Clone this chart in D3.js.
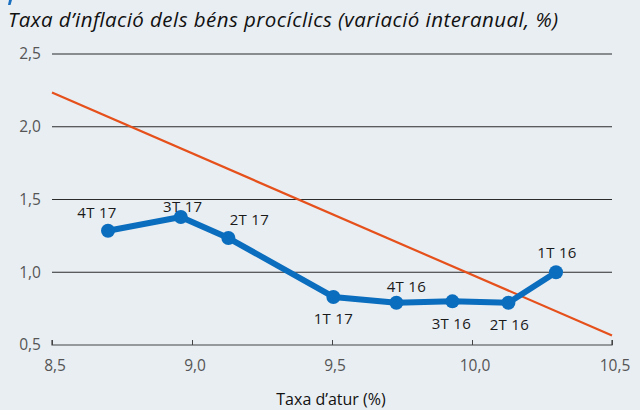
<!DOCTYPE html>
<meta charset="utf-8">
<style type="text/css">
    body {
        margin: 0;
        background: #e9eef3;
    }
    svg {
        display: block;
    }
    text {
        font-family: "Open Sans", "Noto Sans", sans-serif;
    }
</style>
<body>
<script src="https://cdn.jsdelivr.net/npm/d3@7"></script>
<script>
// Data
var quarters = ["4T 17", "3T 17", "2T 17", "1T 17", "4T 16", "3T 16", "2T 16", "1T 16"];
var unemployment = [8.70, 8.96, 9.13, 9.505, 9.73, 9.93, 10.13, 10.30];
var inflation = [1.285, 1.38, 1.235, 0.83, 0.79, 0.80, 0.79, 1.00];
var trendX = [8.5, 10.5];
var trendY = [2.235, 0.565];
var xTicks = [8.5, 9.0, 9.5, 10.0, 10.5];
var yTicks = [0.5, 1.0, 1.5, 2.0, 2.5];

// label offsets relative to each point (layout only)
var labelOffsets = [[-11, -13], [2, -5], [21, -13], [0, 27], [10, -11], [-1, 28], [1, 27], [1, -14]];

var width = 640, height = 410;
var margin = {top: 54, right: 28, bottom: 65, left: 52};

var svg = d3.select("body").append("svg")
    .attr("width", width)
    .attr("height", height);

svg.append("rect")
    .attr("width", width)
    .attr("height", height)
    .attr("fill", "#e9eef3");

// cut-off glyph fragment at the top-left corner
svg.append("path")
    .attr("d", "M9,0 L12,0 L10.5,5 L8,5 Z")
    .attr("fill", "#1a6fbf");

var x = d3.scaleLinear()
    .domain([8.5, 10.5])
    .range([margin.left, width - margin.right]);

var y = d3.scaleLinear()
    .domain([0.5, 2.5])
    .range([height - margin.bottom, margin.top]);

// Title
svg.append("text")
    .attr("x", 8)
    .attr("y", 27)
    .style("font-style", "italic")
    .style("font-size", "20.5px")
    .attr("fill", "#111")
    .attr("textLength", 550)
    .attr("lengthAdjust", "spacing")
    .text("Taxa d’inflació dels béns procíclics (variació interanual, %)");

// Horizontal gridlines
svg.append("g").selectAll("line")
    .data(yTicks.filter(function(d) { return d > 0.5; }))
    .enter().append("line")
    .attr("x1", x(8.5))
    .attr("x2", x(10.5))
    .attr("y1", function(d) { return y(d); })
    .attr("y2", function(d) { return y(d); })
    .attr("stroke", "#2b2b2b")
    .attr("stroke-width", 1.2);

// Y labels
var fmt = function(d) { return d3.format(".1f")(d).replace(".", ","); };

svg.append("g").selectAll("text")
    .data(yTicks)
    .enter().append("text")
    .attr("x", 41)
    .attr("y", function(d) { return y(d); })
    .attr("dy", "0.35em")
    .attr("text-anchor", "end")
    .style("font-size", "15.5px")
    .attr("fill", "#555")
    .text(fmt);

// X axis
var xAxis = d3.axisTop(x)
    .tickValues(xTicks)
    .tickSize(5)
    .tickFormat("");

var gx = svg.append("g")
    .attr("transform", "translate(0," + y(0.5) + ")")
    .call(xAxis);
gx.select(".domain").attr("stroke", "#444").attr("stroke-width", 1.2).attr("d", "M" + x(8.5) + ",-5V0H" + x(10.5) + "V-5");
gx.selectAll(".tick line").attr("stroke", "#444");

svg.append("g").selectAll("text")
    .data(xTicks)
    .enter().append("text")
    .attr("x", function(d) { return x(d) + 3; })
    .attr("y", y(0.5) + 26)
    .attr("text-anchor", "middle")
    .style("font-size", "15.5px")
    .attr("fill", "#555")
    .text(fmt);

svg.append("text")
    .attr("x", 331)
    .attr("y", 405)
    .attr("text-anchor", "middle")
    .style("font-size", "16px")
    .attr("fill", "#111")
    .text("Taxa d’atur (%)");

// Trend line
svg.append("line")
    .attr("x1", x(trendX[0]))
    .attr("y1", y(trendY[0]))
    .attr("x2", x(trendX[1]))
    .attr("y2", y(trendY[1]))
    .attr("stroke", "#e5501b")
    .attr("stroke-width", 2.2);

// Series
var points = quarters.map(function(q, i) {
    return {label: q, x: unemployment[i], y: inflation[i], off: labelOffsets[i]};
});

var line = d3.line()
    .x(function(d) { return x(d.x); })
    .y(function(d) { return y(d.y); });

svg.append("path")
    .datum(points)
    .attr("d", line)
    .attr("fill", "none")
    .attr("stroke", "#0b6dbd")
    .attr("stroke-width", 6)
    .attr("stroke-linejoin", "round");

svg.append("g").selectAll("circle")
    .data(points)
    .enter().append("circle")
    .attr("cx", function(d) { return x(d.x); })
    .attr("cy", function(d) { return y(d.y); })
    .attr("r", 7)
    .attr("fill", "#0b6dbd");

svg.append("g").selectAll("text")
    .data(points)
    .enter().append("text")
    .attr("x", function(d) { return x(d.x) + d.off[0]; })
    .attr("y", function(d) { return y(d.y) + d.off[1]; })
    .attr("text-anchor", "middle")
    .style("font-size", "15px")
    .style("letter-spacing", "0.3px")
    .attr("fill", "#1a1a1a")
    .text(function(d) { return d.label; });
</script>
</body>
